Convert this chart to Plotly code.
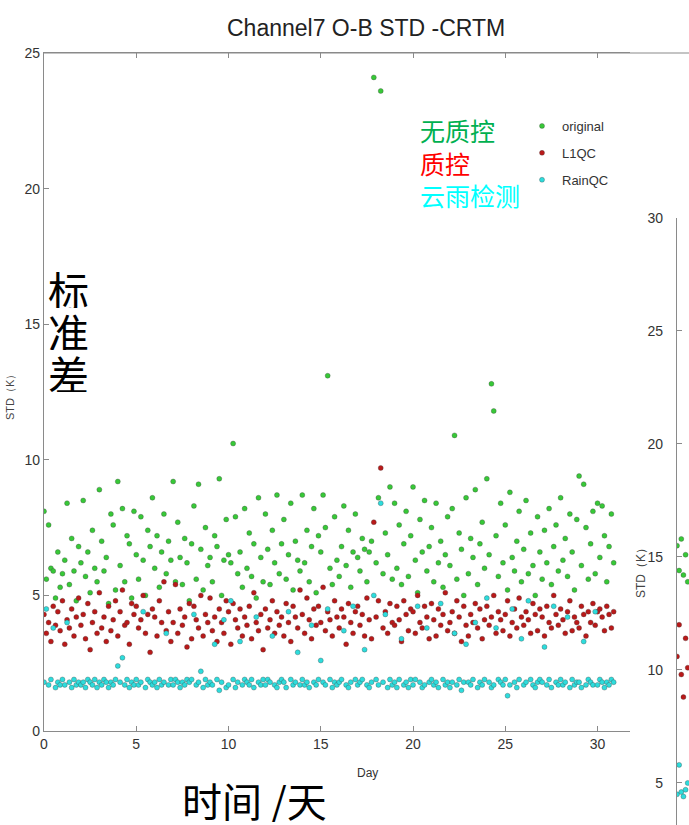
import numpy as np
import plotly.graph_objects as go

# ---- O-B standard deviation, 3-hourly samples over one month ----
original = [
    8.1, 5.6, 7.6, 6.0, 5.9, 4.9, 6.6, 5.3,
    5.8, 6.3, 8.4, 5.4, 7.1, 5.9, 4.8, 6.8,
    6.2, 8.5, 5.7, 6.6, 5.1, 7.4, 6.0, 5.5,
    8.9, 7.0, 5.9, 6.4, 4.7, 8.0, 7.6, 5.2,
    9.2, 6.1, 8.2, 5.5, 7.2, 6.9, 4.9, 8.1,
    6.5, 5.6, 7.9, 6.3, 5.0, 7.4, 6.8, 8.6,
    6.0, 7.2, 5.3, 6.6, 8.0, 5.8, 7.0, 6.3,
    9.2, 5.5, 7.7, 6.4, 5.4, 7.1, 6.2, 4.8,
    6.9, 8.3, 5.6, 9.1, 6.7, 5.2, 7.5, 6.1,
    6.4, 5.5, 7.2, 6.8, 9.3, 5.0, 6.3, 7.8,
    6.5, 6.2, 10.6, 7.9, 5.8, 6.6, 5.3, 8.2,
    6.0, 7.3, 5.7, 6.9, 4.9, 8.6, 6.4, 5.5,
    8.0, 6.7, 5.4, 7.4, 6.2, 8.7, 5.8, 6.9,
    7.8, 5.6, 6.5, 8.4, 5.2, 7.0, 6.3, 5.9,
    8.7, 6.2, 7.4, 5.5, 6.8, 8.2, 5.1, 7.2,
    6.6, 8.7, 7.5, 13.1, 6.0, 5.4, 7.9, 6.3,
    5.7, 6.8, 8.3, 6.1, 7.4, 5.3, 6.6, 8.0,
    6.4, 5.9, 7.1, 6.7, 5.5, 6.6, 7.0, 24.1,
    6.2, 8.6, 23.6, 5.8, 7.3, 6.5, 9.0, 5.6,
    8.4, 6.0, 7.6, 5.4, 6.9, 8.1, 5.7, 7.2,
    9.0, 6.3, 5.1, 7.8, 6.6, 8.5, 5.9, 6.8,
    7.5, 5.5, 8.4, 6.2, 7.0, 5.3, 6.5, 7.9,
    6.1, 8.2, 10.9, 5.6, 7.3, 6.7, 5.0, 8.6,
    5.8, 7.1, 6.4, 8.9, 5.4, 6.9, 7.7, 6.0,
    9.3, 6.5, 12.8, 11.8, 7.2, 5.7, 8.4, 6.2,
    7.6, 5.2, 8.8, 6.4, 5.9, 7.0, 8.1, 5.5,
    6.7, 8.5, 5.8, 7.3, 6.1, 5.0, 7.9, 6.6,
    5.6, 7.4, 6.2, 8.2, 5.4, 6.8, 7.6, 5.9,
    8.6, 6.3, 7.1, 5.7, 8.0, 6.6, 5.2, 7.8,
    9.4, 6.1, 9.1, 7.5, 5.6, 6.9, 8.1, 5.8,
    8.4, 6.4, 8.3, 7.2, 5.5, 6.8, 8.0, 6.2,
]

l1qc = [
    4.3, 3.6, 4.0, 3.3, 4.6, 3.9, 4.4, 3.7,
    4.8, 3.2, 4.1, 3.8, 4.5, 3.5, 4.2, 4.9,
    3.9, 4.3, 3.4, 4.7, 3.0, 4.0, 4.4, 3.6,
    5.1, 3.8, 4.2, 3.3, 4.6, 3.7, 4.1, 4.8,
    3.5, 4.4, 5.2, 3.9, 4.0, 3.2, 4.7, 4.3,
    4.6, 3.8, 4.1, 5.0, 3.6, 4.3, 2.9, 4.5,
    4.2, 3.5, 4.8, 4.0, 5.5, 3.7, 4.4, 3.3,
    4.0, 5.4, 3.6, 4.5, 3.9, 4.2, 3.1, 4.7,
    3.4, 4.6, 4.1, 3.8, 5.0, 3.5, 4.3, 4.0,
    4.9, 3.7, 4.2, 3.3, 4.5, 4.0, 3.6, 4.8,
    4.4, 3.2, 4.7, 4.1, 3.8, 4.5, 3.5, 4.2,
    3.9, 4.6, 3.4, 5.1, 4.0, 3.7, 4.3, 3.0,
    4.5, 3.8, 4.1, 4.8, 3.6, 4.4, 3.9, 4.2,
    3.5, 4.7, 4.0, 3.3, 4.6, 4.2, 3.8, 5.2,
    4.3, 3.6, 4.9, 4.1, 3.4, 4.5, 3.9, 4.6,
    4.0, 5.3, 3.7, 4.4, 4.1, 3.5, 4.8, 4.2,
    3.8, 4.5, 4.2, 3.2, 4.7, 4.0, 3.6, 4.4,
    4.6, 3.9, 4.3, 3.5, 4.9, 4.1, 3.4, 7.7,
    4.2, 4.8, 9.7, 3.8, 4.4, 3.6, 4.7, 4.0,
    3.9, 4.6, 4.1, 3.3, 4.8, 4.3, 3.7, 4.5,
    4.4, 3.6, 5.0, 4.0, 3.8, 4.6, 4.2, 3.4,
    4.7, 4.1, 3.5, 4.5, 3.9, 4.3, 5.1, 3.7,
    4.0, 4.4, 3.6, 4.8, 4.2, 3.3, 4.6, 3.9,
    3.5, 4.3, 4.0, 4.7, 3.8, 4.5, 3.4, 4.1,
    4.6, 3.9, 4.2, 5.0, 3.6, 4.4, 4.1, 3.7,
    4.3, 4.8, 3.5, 4.0, 4.5, 3.8, 4.9, 4.2,
    3.9, 4.4, 4.1, 3.6, 4.7, 4.3, 3.7, 4.5,
    4.2, 3.5, 4.6, 4.0, 3.8, 5.0, 4.3, 3.9,
    4.5, 4.1, 3.6, 4.4, 4.8, 3.7, 4.2, 4.0,
    3.8, 4.6, 4.3, 3.5, 4.4, 4.0, 4.7, 3.9,
    4.4, 4.5, 4.2, 3.7, 4.6, 4.3, 3.8, 4.4,
]

rainqc = [
    1.8, 4.5, 1.7, 1.9, 3.8, 1.6, 1.8, 1.7,
    1.9, 1.7, 4.0, 1.8, 1.6, 1.9, 1.7, 1.8,
    1.7, 1.8, 1.6, 1.9, 1.8, 1.7, 1.9, 1.6,
    1.8, 1.7, 1.9, 1.8, 1.6, 1.8, 1.7, 1.9,
    2.4, 1.8, 2.7, 1.7, 1.9, 1.6, 1.8, 1.7,
    1.9, 1.7, 1.8, 4.4, 1.6, 1.9, 1.8, 1.7,
    1.8, 1.6, 1.9, 1.7, 1.8, 3.6, 1.7, 1.9,
    1.7, 1.9, 1.8, 1.6, 1.8, 1.7, 1.9, 1.8,
    1.9, 4.3, 1.7, 1.8, 2.2, 1.6, 1.9, 1.7,
    1.8, 1.7, 3.2, 1.9, 1.5, 1.8, 4.1, 1.6,
    1.7, 4.8, 1.9, 1.6, 1.8, 3.3, 1.7, 1.9,
    1.8, 1.7, 1.9, 1.6, 4.2, 1.8, 1.7, 1.9,
    1.7, 1.9, 1.8, 3.5, 1.7, 1.6, 1.8, 1.9,
    1.8, 1.6, 4.4, 1.9, 1.7, 1.8, 2.9, 1.7,
    1.9, 1.7, 1.8, 1.6, 3.9, 1.8, 1.7, 1.9,
    2.6, 1.8, 1.7, 4.5, 1.9, 1.6, 1.8, 1.7,
    1.8, 1.9, 3.7, 1.7, 1.6, 1.8, 4.6, 1.9,
    1.7, 1.8, 1.9, 3.0, 1.7, 1.6, 1.8, 5.0,
    1.9, 1.7, 8.4, 1.8, 4.3, 1.6, 1.9, 1.7,
    1.8, 1.6, 1.9, 3.4, 1.7, 1.8, 1.6, 1.9,
    1.7, 1.9, 4.6, 1.8, 1.6, 1.7, 3.8, 1.8,
    1.9, 1.7, 1.8, 1.6, 4.7, 1.9, 1.7, 1.8,
    1.6, 1.8, 3.6, 1.7, 1.9, 1.5, 1.8, 3.2,
    1.8, 1.7, 1.9, 4.0, 1.6, 1.8, 1.7, 1.9,
    4.9, 1.8, 1.6, 1.7, 3.8, 1.9, 1.8, 1.7,
    1.9, 1.3, 1.7, 4.5, 1.8, 1.6, 1.9, 3.4,
    1.7, 1.8, 4.8, 1.9, 1.7, 1.6, 1.8, 1.9,
    1.8, 3.1, 1.7, 1.9, 1.6, 4.6, 1.8, 1.7,
    1.9, 1.7, 1.8, 4.2, 1.6, 1.9, 1.7, 1.8,
    1.8, 1.6, 3.3, 1.7, 1.9, 1.8, 1.7, 4.4,
    1.7, 1.9, 1.8, 1.6, 1.8, 1.7, 1.9, 1.8,
]

# eight samples per day (every 3 hours)
day = np.arange(len(original)) / 8.0

# neighbouring panel (next channel), first samples only
right_day = [0.0, 0.125, 0.25, 0.375, 0.5, 0.625]
right_original = [15.5, 14.4, 15.8, 14.2, 15.1, 13.9]
right_l1qc = [10.6, 12.0, 9.8, 8.8, 11.4, 10.1]
right_rainqc = [4.5, 5.8, 4.6, 4.4, 4.7, 5.0]

series_names = ["original", "L1QC", "RainQC"]
series_labels_cn = ["无质控", "质控", "云雨检测"]
label_colors_cn = ["#00b050", "#ff0000", "#00ffff"]
colors = ["rgb(55,200,55)", "rgb(185,25,25)", "rgb(45,220,220)"]

W, H = 689, 825
def px(x):
    return x / W
def py(y):
    return 1 - y / H

NARROW = "Liberation Sans Narrow, Liberation Sans, Arial, sans-serif"
CJK = "Noto Sans CJK SC"

fig = go.Figure()
for name, ys, c in zip(series_names, [original, l1qc, rainqc], colors):
    fig.add_trace(go.Scatter(
        x=day, y=ys, mode="markers", name=name,
        marker=dict(color=c, size=5, line=dict(width=0.6, color="rgba(60,60,60,0.55)")),
        xaxis="x", yaxis="y", legendgroup=name,
    ))
for ys, c in zip([right_original, right_l1qc, right_rainqc], colors):
    fig.add_trace(go.Scatter(
        x=right_day, y=ys, mode="markers", showlegend=False,
        marker=dict(color=c, size=5, line=dict(width=0.6, color="rgba(60,60,60,0.55)")),
        xaxis="x2", yaxis="y2",
    ))

axis_common = dict(
    showline=True, linecolor="#8a8a8a", linewidth=1.2,
    ticks="inside", ticklen=5, tickcolor="#8a8a8a",
    showgrid=False, zeroline=False, automargin=False,
    tickfont=dict(family=NARROW, size=14, color="#333"),
)

fig.update_layout(
    width=W, height=H,
    margin=dict(l=0, r=0, t=0, b=0, pad=0),
    paper_bgcolor="white", plot_bgcolor="white",
    xaxis=dict(domain=[px(44), px(630)], range=[0, 31.76],
               tickvals=[0, 5, 10, 15, 20, 25, 30], mirror="ticks",
               anchor="y", **axis_common),
    yaxis=dict(domain=[py(731), py(53)], range=[0, 25],
               tickvals=[0, 5, 10, 15, 20, 25], anchor="x", **axis_common),
    xaxis2=dict(domain=[px(677), 1.0], range=[0, 0.7], showticklabels=False,
                anchor="y2", showline=False, showgrid=False, zeroline=False,
                automargin=False),
    yaxis2=dict(domain=[0.0, py(218)], range=[3.14, 30], ticklabelstandoff=10,
                tickvals=[5, 10, 15, 20, 25, 30], anchor="x2", **axis_common),
    showlegend=True,
    legend=dict(x=px(522), y=py(111), xanchor="left", yanchor="top",
                bgcolor="rgba(0,0,0,0)", tracegroupgap=7,
                font=dict(family=NARROW, size=13, color="#333")),
)

# top frame line of the main panel
fig.add_shape(type="line", xref="paper", yref="paper",
              x0=px(44), x1=1.0, y0=py(53), y1=py(53),
              line=dict(color="#8a8a8a", width=1.2))

# Chinese series names, one coloured line each
cn_legend = "<br>".join(
    f"<span style='color:{c}'>{t}</span>"
    for t, c in zip(series_labels_cn, label_colors_cn)
)

annotations = [
    dict(text="Channel7 O-B STD -CRTM", x=px(366), y=py(28),
         font=dict(family=NARROW, size=23, color="#222")),
    dict(text="Day", x=px(367), y=py(773),
         font=dict(family=NARROW, size=12, color="#333")),
    dict(text="STD（K）", x=px(10), y=py(395), textangle=-90,
         font=dict(family="Liberation Sans, Arial", size=11, color="#444")),
    dict(text="STD（K）", x=px(641), y=py(570), textangle=-90,
         font=dict(family="Liberation Sans, Arial", size=12, color="#444")),
    dict(text="标", x=px(68), y=py(289), height=38,
         font=dict(family=CJK, size=41, color="black")),
    dict(text="准", x=px(68), y=py(331), height=38,
         font=dict(family=CJK, size=41, color="black")),
    dict(text="差", x=px(68), y=py(373), height=38,
         font=dict(family=CJK, size=41, color="black")),
    dict(text="时间 /天", x=px(254), y=py(800), height=44,
         font=dict(family=CJK, size=40, color="black")),
    dict(text=cn_legend, x=px(418), y=py(163), xanchor="left", align="left",
         font=dict(family=CJK, size=25, color="black")),
]
for a in annotations:
    a.setdefault("xanchor", "center")
    fig.add_annotation(xref="paper", yref="paper", showarrow=False,
                       yanchor="middle", **a)

fig.write_html("out.html")
